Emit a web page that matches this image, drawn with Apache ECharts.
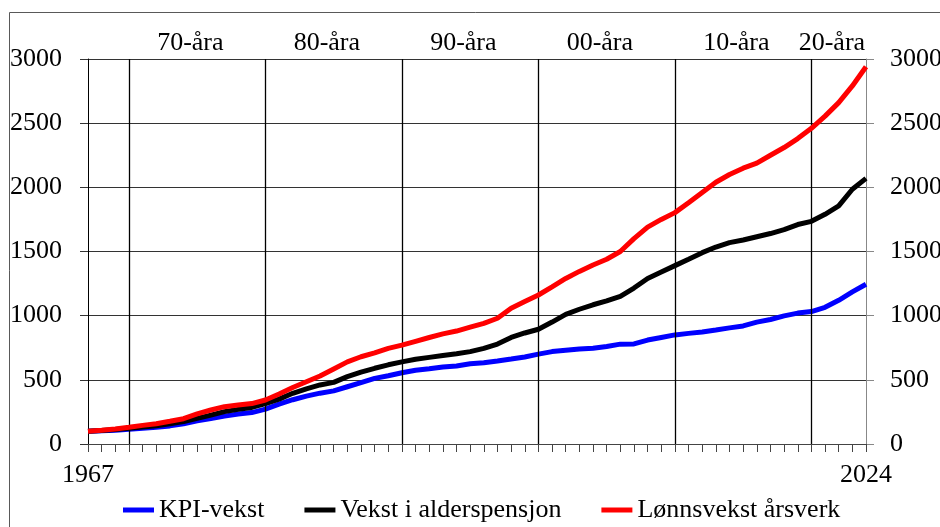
<!DOCTYPE html>
<html>
<head>
<meta charset="utf-8">
<script src="https://cdn.jsdelivr.net/npm/echarts@6/dist/echarts.min.js"></script>
<style>
html,body{margin:0;padding:0;background:#fff;}
#chart{width:940px;height:527px;}
</style>
</head>
<body>
<div id="chart"></div>
<script>
var years = [];
for (var y = 1967; y <= 2024; y++) years.push(String(y));

var kpi = [100,104,108,114,122,131,141,158,180,199,
  217,234,245,272,310,345,373,396,414,446,
  478,511,532,555,575,587,600,608,625,633,
  647,662,678,700,720,730,740,746,760,778,
  780,810,830,850,862,872,888,905,920,950,
  970,998,1020,1032,1065,1120,1185,1245];

var pensjon = [100,106,113,122,132,142,158,175,200,225,
  252,270,285,315,350,395,430,460,480,525,
  560,590,617,640,660,675,690,703,720,745,
  779,830,865,894,950,1010,1050,1085,1115,1150,
  1215,1290,1340,1390,1440,1491,1535,1569,1590,1615,
  1640,1670,1710,1735,1790,1855,1985,2070];

var lonn = [100,108,117,130,145,158,177,197,234,265,
  291,304,315,343,390,440,485,530,585,640,
  680,710,745,770,800,830,858,880,910,940,
  980,1058,1110,1161,1225,1290,1345,1395,1440,1500,
  1600,1690,1750,1803,1880,1960,2040,2100,2149,2188,
  2250,2310,2380,2460,2555,2660,2790,2940];

var decadeYears = ['1970','1980','1990','2000','2010','2020'];
var decadeLabels = ['70-åra','80-åra','90-åra','00-åra','10-åra','20-åra'];
var seriesNames = ['KPI-vekst','Vekst i alderspensjon','Lønnsvekst årsverk'];

var FONT = '"Liberation Serif", "Times New Roman", serif';
var chart = echarts.init(document.getElementById('chart'), null, {renderer:'canvas'});

var lastIdx = years.length - 1;
function plain(v) { return String(v); }

var option = {
  animation: false,
  backgroundColor: '#fff',
  textStyle: {fontFamily: FONT},
  grid: {left: 88, right: 74, top: 59, bottom: 83, containLabel: false, outerBoundsMode: 'none'},
  legend: {
    left: 118, top: 492,
    itemWidth: 31, itemHeight: 5, itemGap: 40,
    icon: 'rect',
    textStyle: {fontFamily: FONT, fontSize: 26, color: '#000'},
    data: seriesNames
  },
  xAxis: {
    type: 'category',
    data: years,
    boundaryGap: false,
    axisLine: {show: true, lineStyle: {color: '#444', width: 1}},
    axisTick: {show: true, interval: 0, length: 8, inside: false, lineStyle: {color: '#444', width: 1}},
    axisLabel: {
      interval: function (i) { return i === 0 || i === lastIdx; },
      showMinLabel: true, showMaxLabel: true, hideOverlap: false,
      margin: 18, fontFamily: FONT, fontSize: 26, color: '#000'
    },
    splitLine: {show: false}
  },
  yAxis: [{
    type: 'value', min: 0, max: 3000, interval: 500, position: 'left',
    axisLine: {show: true, lineStyle: {color: '#000', width: 1}},
    axisTick: {show: true, length: 8, lineStyle: {color: '#333'}},
    axisLabel: {margin: 26, fontFamily: FONT, fontSize: 26, color: '#000', formatter: plain},
    splitLine: {show: true, lineStyle: {color: '#333', width: 1}}
  }, {
    type: 'value', min: 0, max: 3000, interval: 500, position: 'right',
    axisLine: {show: true, lineStyle: {color: '#888', width: 1}},
    axisTick: {show: true, length: 8, lineStyle: {color: '#888'}},
    axisLabel: {margin: 24, fontFamily: FONT, fontSize: 26, color: '#000', formatter: plain},
    splitLine: {show: false}
  }],
  series: [{
    name: seriesNames[0], type: 'line', data: kpi, symbol: 'none',
    lineStyle: {color: '#0000FF', width: 5}, itemStyle: {color: '#0000FF'},
    markLine: {
      silent: true, symbol: ['none','none'],
      label: {show: false},
      lineStyle: {color: '#000', width: 1.3, type: 'solid'},
      data: decadeYears.map(function (d) { return {xAxis: d}; })
    },
    z: 3
  }, {
    name: seriesNames[1], type: 'line', data: pensjon, symbol: 'none',
    lineStyle: {color: '#000000', width: 5}, itemStyle: {color: '#000000'}, z: 4
  }, {
    name: seriesNames[2], type: 'line', data: lonn, symbol: 'none',
    lineStyle: {color: '#FF0000', width: 5}, itemStyle: {color: '#FF0000'}, z: 5
  }]
};
chart.setOption(option);

// decade labels above the plot, centred in each decade span
var x0 = chart.convertToPixel({xAxisIndex: 0}, 0);
var x1 = chart.convertToPixel({xAxisIndex: 0}, lastIdx);
var firstYear = 1967, lastYear = 2024;
function yearToPx(yr) { return x0 + (yr - firstYear) / (lastYear - firstYear) * (x1 - x0); }
var graphics = decadeYears.map(function (d, i) {
  var start = parseInt(d, 10);
  var end = Math.min(start + 10, lastYear);
  var mid = (start + end) / 2 - 0.5;
  return {
    type: 'text', x: yearToPx(mid), y: 43,
    style: {text: decadeLabels[i], fontFamily: FONT, fontSize: 26, fill: '#000',
      textAlign: 'center', textVerticalAlign: 'middle'},
    silent: true
  };
});
graphics.push({
  type: 'rect', shape: {x: 9.5, y: 12.5, width: 960, height: 540},
  style: {fill: 'none', stroke: '#595959', lineWidth: 1}, silent: true, z: 100
});
chart.setOption({graphic: graphics});
</script>
</body>
</html>
